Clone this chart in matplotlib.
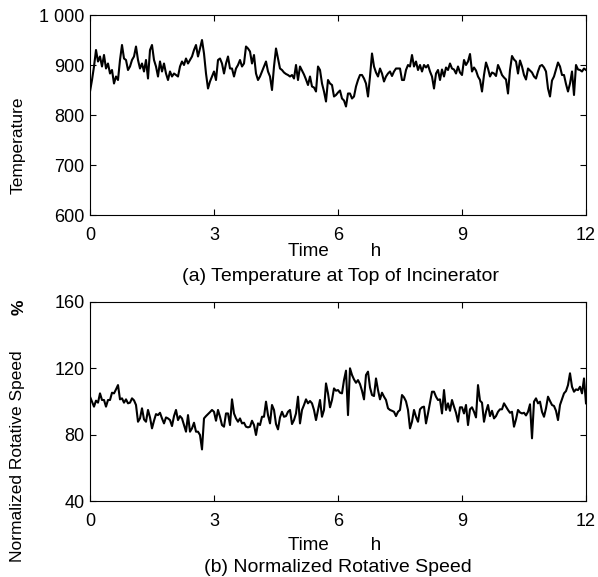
import numpy as np
import matplotlib
matplotlib.use("Agg")
import matplotlib.pyplot as plt

plt.rcParams['font.family'] = ['Liberation Sans', 'Noto Sans CJK SC', 'DejaVu Sans']

# ---- data ----
temperature = [
    847, 870, 897, 930, 907, 917, 897, 920, 893, 903, 883, 890, 863, 877, 870, 910, 940, 913, 910, 890,
    897, 910, 917, 937, 910, 893, 903, 887, 910, 873, 930, 940, 910, 897, 877, 907, 887, 903, 883, 870,
    887, 877, 883, 880, 877, 897, 907, 900, 913, 903, 910, 917, 930, 940, 917, 933, 950, 923, 883, 853,
    867, 877, 887, 870, 910, 913, 903, 883, 903, 917, 893, 893, 877, 893, 900, 910, 897, 903, 937, 933,
    927, 903, 920, 883, 870,
    877, 887, 897, 907, 887, 877, 850, 897, 933, 913, 893, 890, 885, 882, 880, 877, 880, 873, 900, 870,
    897, 889, 881, 871, 860, 877, 857, 855, 847, 897, 890, 863, 847, 827, 870, 863, 860, 837, 840, 845,
    849, 833, 829, 817, 843, 843, 833, 837, 857, 870, 880, 880, 873, 863, 837, 877, 923, 897, 885, 877,
    893, 883, 867, 877, 883, 887, 878, 887, 893, 893, 893, 870, 870, 890, 900, 897, 920, 897, 907, 890,
    900, 887,
    900, 895, 900, 887, 877, 853, 883, 890, 870, 891, 877, 895, 890, 903, 893, 891, 883, 897, 885, 880,
    910, 900, 907, 922, 887, 895, 889, 877, 870, 847, 880, 905, 893, 877, 885, 883, 878, 900, 891, 880,
    875, 871, 843, 890, 918, 911, 907, 883, 909, 897, 880, 871, 893, 889, 885, 877, 873, 887, 898, 900,
    895, 887, 853, 837, 869, 877, 891, 905, 897, 880, 880, 862, 847, 863, 887, 840, 900, 891, 890, 887,
    893, 890,
]

speed = [
    102.9, 99.9, 96.9, 100.5, 99.3, 104.9, 100.9, 100.9, 96.9, 100.9, 100.9, 105.3, 104.9, 107.3, 109.9,
    101.3, 101.9, 99.3, 101.3, 98.9, 99.3, 101.9, 100.7, 97.9, 87.8, 89.8, 95.9, 89.2, 87.8, 94.9,
    90.4, 83.8, 88.4, 92.4, 91.8, 93.2, 89.8, 86.8, 90.4, 89.8, 88.8, 85.2, 91.2, 94.9, 88.8,
    91.2, 89.8, 85.8, 81.8, 91.8, 81.8, 83.8, 87.2, 81.8, 81.8, 79.8, 71.1, 89.8, 91.2, 92.4,
    93.6, 94.9, 93.8, 88.4, 94.9, 90.8, 85.8, 84.8, 92.8, 92.8, 85.8, 101.3, 92.8, 89.8, 87.8,
    89.8, 86.8, 87.2, 84.8, 84.4, 84.8, 88.4, 85.8, 79.8, 86.8,
    85.8, 90.8, 90.8, 99.9, 91.8, 86.8, 97.9, 94.9, 86.4, 83.2, 90.4, 93.8, 90.8, 91.2, 93.8,
    94.9, 86.4, 88.8, 92.8, 102.9, 86.8, 94.9, 97.9, 101.3, 98.9, 100.3, 98.9, 94.9, 88.8, 94.9,
    100.9, 90.8, 94.9, 110.9, 104.9, 96.5, 100.9, 107.9, 106.5, 106.9, 105.3, 104.9, 112.9, 118.6, 91.8,
    120.0, 116.0, 113.3, 111.3, 112.9, 110.5, 106.5, 101.3, 116.0, 118.0, 108.5, 103.9, 103.3, 113.9, 106.9,
    101.3, 105.3, 102.9, 100.9, 95.9, 94.9, 94.4, 93.8, 91.2, 93.8, 94.9, 103.9, 102.5, 100.1, 94.9,
    83.8, 87.8, 94.9, 90.8, 87.8, 95.3, 96.5,
    96.9, 86.8, 92.8, 99.3, 105.9, 105.9, 102.9, 100.9, 101.3, 92.8, 106.9, 94.9, 98.9, 94.4, 100.9,
    96.9, 93.2, 87.8, 96.5, 96.5, 92.8, 97.9, 85.8, 95.3, 96.5, 93.8, 90.4, 109.9, 100.5, 99.3,
    87.8, 93.8, 97.9, 91.2, 94.4, 89.8, 91.2, 93.8, 95.3, 95.3, 98.9, 96.9, 94.9, 93.2, 93.8,
    84.8, 89.2, 94.9, 93.4, 92.8, 93.2, 91.6, 93.8, 98.3, 77.8, 99.9, 101.9, 98.9, 99.9, 93.8,
    90.8, 95.9, 102.9, 100.3, 97.9, 97.3, 94.4, 88.8, 97.9, 101.3, 104.9, 106.3, 109.9, 117.0, 108.9,
    105.9, 107.3, 106.9, 108.9, 104.9, 113.9, 98.9,
]

x_ticks = [0, 3, 6, 9, 12]
temp_ticks = [600, 700, 800, 900, 1000]
temp_tick_labels = ['600', '700', '800', '900', '1 000']
speed_ticks = [40, 80, 120, 160]

t_temp = np.linspace(0, 12, len(temperature))
t_speed = np.linspace(0, 12, len(speed))

fig = plt.figure(figsize=(5.98, 5.77), dpi=100)
W, H = 598, 577

def px_axes(l, t, r, b):
    return fig.add_axes([l / W, 1 - b / H, (r - l) / W, (b - t) / H])

ax1 = px_axes(90, 15, 586, 215)
ax2 = px_axes(90, 302, 586, 501)

for ax in (ax1, ax2):
    ax.set_xlim(0, 12)
    ax.set_xticks(x_ticks)
    ax.tick_params(direction='in', top=True, right=True, length=4, width=0.8,
                   labelsize=13)
    ax.tick_params(axis='x', pad=9)
    ax.tick_params(axis='y', pad=4)
    for s in ax.spines.values():
        s.set_linewidth(0.8)

ax1.plot(t_temp, temperature, color='black', lw=1.5)
ax1.set_ylim(600, 1000)
ax1.set_yticks(temp_ticks)
ax1.set_yticklabels(temp_tick_labels)

ax2.plot(t_speed, speed, color='black', lw=1.5)
ax2.set_ylim(40, 160)
ax2.set_yticks(speed_ticks)

def ftext(x, y, s, **kw):
    fig.text(x / W, 1 - y / H, s, **kw)

FS = 12.5
ftext(335, 252, 'Time        h', ha='center', va='center', fontsize=13.5)
ftext(340, 277, '(a) Temperature at Top of Incinerator', ha='center', va='center', fontsize=14)
ftext(18, 145, 'Temperature', ha='center', va='center', rotation=90, fontsize=FS)

ftext(335, 545, 'Time        h', ha='center', va='center', fontsize=13.5)
ftext(338, 567, '(b) Normalized Rotative Speed', ha='center', va='center', fontsize=14)
ftext(18, 456, 'Normalized Rotative Speed', ha='center', va='center', rotation=90, fontsize=FS)
ftext(19, 307, '%', ha='center', va='center', rotation=90, fontsize=FS, fontweight='bold')

fig.savefig('out.png', dpi=100)
